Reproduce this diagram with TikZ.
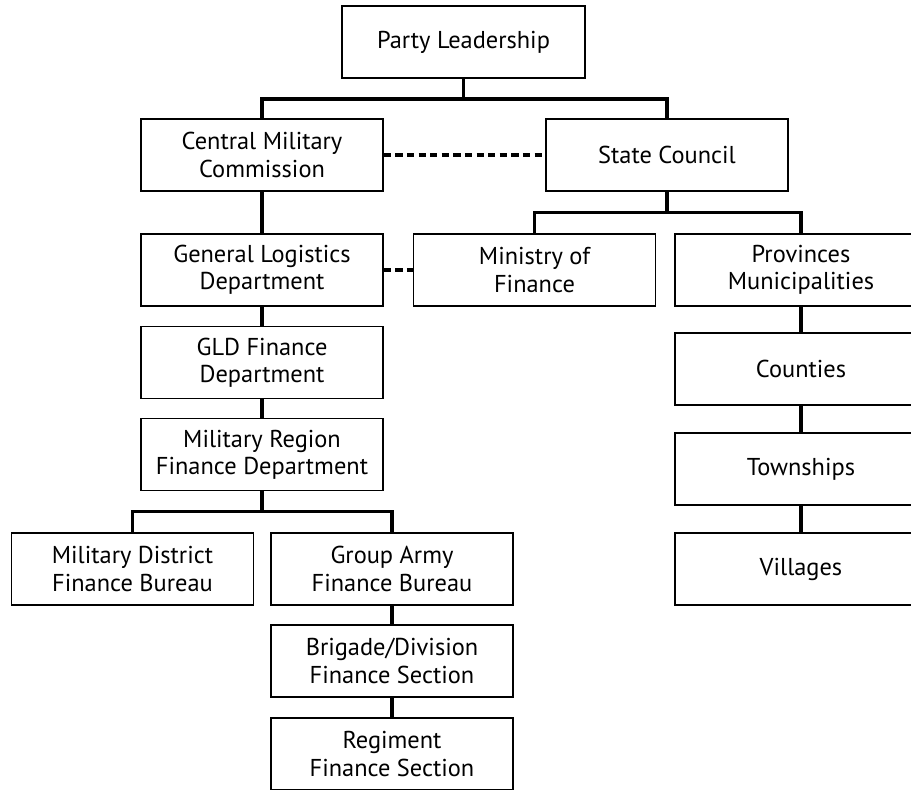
\documentclass[tikz,border=0pt]{standalone}
\usepackage{fontspec}
\setmainfont{PT Sans}
\usetikzlibrary{positioning}

\tikzset{
  unit/.style={draw, line width=0.7pt, minimum width=121pt, minimum height=36pt,
    inner sep=0pt, align=center, font=\fontsize{12.2}{13.6}\selectfont},
  link/.style={line width=1.6pt},
  liaison/.style={line width=1.6pt, dash pattern=on 3.6pt off 2.2pt}
}

\begin{document}
\begin{tikzpicture}[x=0.5pt, y=-0.5pt]
  \useasboundingbox (0,0) rectangle (911,789);

  % top level
  \node[unit, minimum width=121.5pt] (party) at (463.5,42) {Party Leadership};
  \node[unit] (cmc) at (262,155) {Central Military\\Commission};
  \node[unit] (council) at (667,155) {State Council};

  % military chain
  \node[unit] (gld) at (262,270) {General Logistics\\Department};
  \node[unit] (gldfin) at (262,362.5) {GLD Finance\\Department};
  \node[unit] (mrfin) at (262,454.5) {Military Region\\Finance Department};
  \node[unit] (mdfin) at (132.5,569) {Military District\\Finance Bureau};
  \node[unit] (gafin) at (392,569) {Group Army\\Finance Bureau};
  \node[unit] (bdfin) at (392,661) {Brigade/Division\\Finance Section};
  \node[unit] (regfin) at (392,754) {Regiment\\Finance Section};

  % civil chain, cut off at the right margin
  \node[unit] (mof) at (534.5,270) {Ministry of\\Finance};
  \node[unit, minimum width=126pt] (prov) at (801,270) {Provinces\\Municipalities};
  \node[unit, minimum width=126pt] (county) at (801,369) {Counties};
  \node[unit, minimum width=126pt] (town) at (801,469) {Townships};
  \node[unit, minimum width=126pt] (village) at (801,569) {Villages};

  % bus junctions
  \coordinate (partybus) at (463.5,99);
  \coordinate (councilbus) at (667,212.5);
  \coordinate (mrbus) at (262,511.5);

  \draw[link] (party) -- (partybus);
  \draw[link] (cmc.north) |- (partybus) -| (council.north);
  \draw[link] (council) -- (councilbus);
  \draw[link] (mof.north) |- (councilbus) -| (prov.north);
  \draw[link] (cmc) -- (gld);
  \draw[link] (gld) -- (gldfin);
  \draw[link] (gldfin) -- (mrfin);
  \draw[link] (mrfin) -- (mrbus);
  \draw[link] (mdfin.north) |- (mrbus) -| (gafin.north);
  \draw[link] (gafin) -- (bdfin);
  \draw[link] (bdfin) -- (regfin);
  \draw[link] (prov) -- (county);
  \draw[link] (county) -- (town);
  \draw[link] (town) -- (village);

  % dashed liaison lines
  \draw[liaison] (cmc) -- (council);
  \draw[liaison] (gld) -- (mof);
\end{tikzpicture}
\end{document}
